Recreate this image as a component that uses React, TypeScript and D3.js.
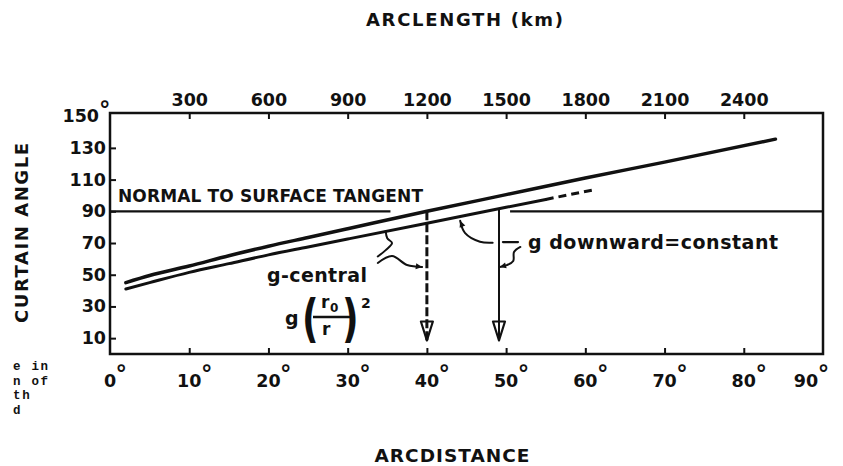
import React, { useEffect, useRef } from 'react';
import * as d3 from 'd3';

const W = 843;
const H = 466;

// arcdistance (deg) vs curtain angle (deg)
const upperDeg = [2, 5, 10, 15, 20, 25, 30, 40, 50, 60, 70, 84];
const upperAngle = [45, 49.5, 55.5, 62, 68, 73.5, 79, 90, 100.5, 111, 121, 135.5];
const lowerDeg = [2, 5, 10, 15, 20, 25, 30, 40, 50, 55];
const lowerAngle = [41, 45, 51.5, 57, 62.5, 67.5, 72.5, 82.5, 92.5, 97.5];
const lowerDashDeg = [55, 61];
const lowerDashAngle = [97.5, 103.5];

const bottomTicks = [0, 10, 20, 30, 40, 50, 60, 70, 80, 90];
const topTicks = [300, 600, 900, 1200, 1500, 1800, 2100, 2400];
const leftTicks = [10, 30, 50, 70, 90, 110, 130, 150];

// normal to surface tangent, drawn in two pieces
const normalAngle = 90;
const normalSegs = [[0, 35.4], [50.5, 90]];

// vertical gravity arrows
const dashedArrowDeg = 40;
const solidArrowDeg = 49.1;
const arrowTipAngle = 8.5;

// hand drawn annotation strokes, in (deg, angle)
const braceCentral = [[34.8, 77.5], [35.0, 73], [35.6, 70], [34.8, 65.5], [33.8, 61.5]];
const waveCentral = [[33.8, 57.4], [35.6, 61.8], [37.5, 56.1], [39.4, 54.9]];
const arcDownward = [[44.2, 84], [44.8, 76.4], [46.7, 70.8], [48.3, 70.2]];
const dashDownward = [[49.6, 70.6], [51.5, 70.6]];
const hookDownward = [[51.8, 67.5], [51.0, 64.3], [50.9, 58.7], [50.1, 56.1], [49.2, 54.9]];

const FONT = '"DejaVu Sans", sans-serif';
const INK = '#111';

const App: React.FC = () => {
  const ref = useRef<SVGSVGElement>(null);

  useEffect(() => {
    if (!ref.current) return;
    const svg = d3.select(ref.current);
    svg.selectAll('*').remove();

    const x = d3.scaleLinear().domain([0, 90]).range([110, 823]);
    const xKm = d3.scaleLinear().domain([0, 2700]).range([110, 823]);
    const y = d3.scaleLinear().domain([0, 152]).range([354, 113]);

    // frame
    svg.append('rect')
      .attr('x', x(0)).attr('y', y(152))
      .attr('width', x(90) - x(0)).attr('height', y(0) - y(152))
      .attr('fill', 'none').attr('stroke', INK).attr('stroke-width', 2.5);

    // ticks (pointing inward)
    const tickStyle = (g: any) => {
      g.select('.domain').remove();
      g.selectAll('line').attr('stroke', INK).attr('stroke-width', 2);
    };
    svg.append('g').attr('transform', `translate(0,${y(0)})`)
      .call(d3.axisBottom(x).tickValues(bottomTicks.slice(1, -1)).tickSize(-6).tickFormat(() => ''))
      .call(tickStyle);
    svg.append('g').attr('transform', `translate(0,${y(152)})`)
      .call(d3.axisTop(xKm).tickValues(topTicks).tickSize(-6).tickPadding(7).tickFormat(d3.format('d')))
      .call(tickStyle)
      .call(g => g.selectAll('text')
        .attr('font-family', FONT).attr('font-weight', 'bold').attr('font-size', 17.5).attr('fill', INK));
    svg.append('g').attr('transform', `translate(${x(0)},0)`)
      .call(d3.axisLeft(y).tickValues(leftTicks.slice(0, -1)).tickSize(-6).tickFormat(() => ''))
      .call(tickStyle);

    // left tick labels
    svg.selectAll('.ylab').data(leftTicks).enter().append('text')
      .attr('class', 'ylab')
      .attr('x', d => (d === 150 ? 99 : 106))
      .attr('y', d => y(d) + 6)
      .attr('text-anchor', 'end')
      .attr('font-family', FONT).attr('font-weight', 'bold').attr('font-size', 17.5).attr('fill', INK)
      .text(d => d);
    svg.append('text')
      .attr('x', 99).attr('y', 118)
      .attr('font-family', FONT).attr('font-weight', 'bold').attr('font-size', 23).attr('fill', INK)
      .text('°');

    // bottom tick labels with degree marks (last one pulled inside the frame edge)
    bottomTicks.forEach(t => {
      const cx = t === 90 ? x(t) - 17 : x(t);
      const lab = svg.append('text')
        .attr('x', cx).attr('y', 387)
        .attr('text-anchor', 'middle')
        .attr('font-family', FONT).attr('font-weight', 'bold').attr('font-size', 17.5).attr('fill', INK)
        .text(t);
      const w = (lab.node() as SVGTextElement).getComputedTextLength();
      svg.append('text')
        .attr('x', cx + w / 2 - 0.5).attr('y', 382)
        .attr('font-family', FONT).attr('font-weight', 'bold').attr('font-size', 23).attr('fill', INK)
        .text('°');
    });

    // titles
    svg.append('text')
      .attr('x', 464.5).attr('y', 26).attr('text-anchor', 'middle')
      .attr('font-family', FONT).attr('font-weight', 'bold').attr('font-size', 18).attr('fill', INK)
      .attr('textLength', 197).attr('lengthAdjust', 'spacing')
      .text('ARCLENGTH (km)');
    svg.append('text')
      .attr('x', 452).attr('y', 462).attr('text-anchor', 'middle')
      .attr('font-family', FONT).attr('font-weight', 'bold').attr('font-size', 18.5).attr('fill', INK)
      .attr('textLength', 155).attr('lengthAdjust', 'spacing')
      .text('ARCDISTANCE');
    svg.append('text')
      .attr('transform', 'translate(28,233) rotate(-90)').attr('text-anchor', 'middle')
      .attr('font-family', FONT).attr('font-weight', 'bold').attr('font-size', 18).attr('fill', INK)
      .attr('textLength', 180).attr('lengthAdjust', 'spacing')
      .text('CURTAIN ANGLE');

    // cut off caption text at the left edge
    ['e in', 'n of', 'th', 'd'].forEach((s, i) => {
      svg.append('text')
        .attr('x', 13).attr('y', 370 + i * 14.7)
        .attr('font-family', '"Liberation Mono", monospace').attr('font-weight', 'bold')
        .attr('font-size', 12.5).attr('letter-spacing', 1.7).attr('fill', INK)
        .style('white-space', 'pre')
        .text(s);
    });

    // normal to surface tangent
    normalSegs.forEach(([a, b]) => {
      svg.append('line')
        .attr('x1', x(a)).attr('x2', x(b)).attr('y1', y(normalAngle)).attr('y2', y(normalAngle))
        .attr('stroke', INK).attr('stroke-width', 2.2);
    });
    svg.append('text')
      .attr('x', 118).attr('y', 202)
      .attr('font-family', FONT).attr('font-weight', 'bold').attr('font-size', 17).attr('fill', INK)
      .attr('textLength', 305).attr('lengthAdjust', 'spacing')
      .text('NORMAL TO SURFACE TANGENT');

    // curves
    const line = d3.line<[number, number]>()
      .x(d => x(d[0])).y(d => y(d[1]))
      .curve(d3.curveMonotoneX);
    const upper = upperDeg.map((d, i) => [d, upperAngle[i]] as [number, number]);
    const lower = lowerDeg.map((d, i) => [d, lowerAngle[i]] as [number, number]);
    const lowerDash = lowerDashDeg.map((d, i) => [d, lowerDashAngle[i]] as [number, number]);
    svg.append('path').attr('d', line(upper)).attr('fill', 'none')
      .attr('stroke', INK).attr('stroke-width', 3.5).attr('stroke-linecap', 'round');
    svg.append('path').attr('d', line(lower)).attr('fill', 'none')
      .attr('stroke', INK).attr('stroke-width', 3).attr('stroke-linecap', 'round');
    svg.append('path').attr('d', line(lowerDash)).attr('fill', 'none')
      .attr('stroke', INK).attr('stroke-width', 3).attr('stroke-dasharray', '8,5');

    const upperAt = d3.scaleLinear().domain(upperDeg).range(upperAngle);
    const lowerAt = d3.scaleLinear().domain(lowerDeg).range(lowerAngle);

    // vertical arrows
    const arrow = (deg: number, fromAngle: number, dashed: boolean) => {
      const cx = x(deg);
      const tip = y(arrowTipAngle);
      svg.append('line')
        .attr('x1', cx).attr('x2', cx).attr('y1', y(fromAngle)).attr('y2', tip)
        .attr('stroke', INK).attr('stroke-width', dashed ? 3 : 2)
        .attr('stroke-dasharray', dashed ? '9,3' : null);
      svg.append('path')
        .attr('d', `M${cx - 6},${tip - 19}L${cx + 6},${tip - 19}L${cx},${tip}Z`)
        .attr('fill', 'none').attr('stroke', INK).attr('stroke-width', 2.2).attr('stroke-linejoin', 'round');
    };
    arrow(dashedArrowDeg, upperAt(dashedArrowDeg), true);
    arrow(solidArrowDeg, lowerAt(solidArrowDeg), false);

    // annotation strokes
    const free = d3.line<number[]>().x(d => x(d[0])).y(d => y(d[1])).curve(d3.curveCatmullRom);
    const stroke = (pts: number[][], w = 2) =>
      svg.append('path').attr('d', free(pts)).attr('fill', 'none')
        .attr('stroke', INK).attr('stroke-width', w).attr('stroke-linecap', 'round');
    const head = (pts: number[][]) => {
      const [ax, ay] = [x(pts[pts.length - 1][0]), y(pts[pts.length - 1][1])];
      const [bx, by] = [x(pts[pts.length - 2][0]), y(pts[pts.length - 2][1])];
      const ang = Math.atan2(ay - by, ax - bx);
      const l = 7, s = 0.45;
      svg.append('path')
        .attr('d', `M${ax},${ay}L${ax - l * Math.cos(ang - s)},${ay - l * Math.sin(ang - s)}L${ax - l * Math.cos(ang + s)},${ay - l * Math.sin(ang + s)}Z`)
        .attr('fill', INK);
    };
    stroke(braceCentral);
    stroke(waveCentral);
    head(waveCentral);
    stroke(arcDownward);
    head([...arcDownward].reverse());
    stroke(dashDownward, 2.2);
    stroke(hookDownward);
    head(hookDownward);

    svg.append('text')
      .attr('x', 267).attr('y', 282)
      .attr('font-family', FONT).attr('font-weight', 'bold').attr('font-size', 19).attr('fill', INK)
      .attr('textLength', 100).attr('lengthAdjust', 'spacing')
      .text('g-central');
    svg.append('text')
      .attr('x', 528).attr('y', 249)
      .attr('font-family', FONT).attr('font-weight', 'bold').attr('font-size', 19).attr('fill', INK)
      .attr('textLength', 250).attr('lengthAdjust', 'spacing')
      .text('g downward=constant');

    // g (r0 / r)^2
    const expr = svg.append('g').attr('font-family', FONT).attr('font-weight', 'bold').attr('fill', INK);
    expr.append('text').attr('x', 285).attr('y', 325).attr('font-size', 19).text('g');
    expr.append('text').attr('transform', 'translate(302,336) scale(0.7,1)').attr('font-size', 52).text('(');
    expr.append('text').attr('x', 321).attr('y', 308).attr('font-size', 17).text('r');
    expr.append('text').attr('x', 330).attr('y', 312).attr('font-size', 12).text('0');
    expr.append('line').attr('x1', 313).attr('x2', 350).attr('y1', 317).attr('y2', 317)
      .attr('stroke', INK).attr('stroke-width', 2.5);
    expr.append('text').attr('x', 322).attr('y', 335).attr('font-size', 17).text('r');
    expr.append('text').attr('transform', 'translate(342,336) scale(0.7,1)').attr('font-size', 52).text(')');
    expr.append('text').attr('x', 361).attr('y', 308).attr('font-size', 14).text('2');
  }, []);

  return (
    <svg
      ref={ref}
      width={W}
      height={H}
      style={{ position: 'absolute', left: 0, top: 0, background: '#fff' }}
    />
  );
};

export default App;
